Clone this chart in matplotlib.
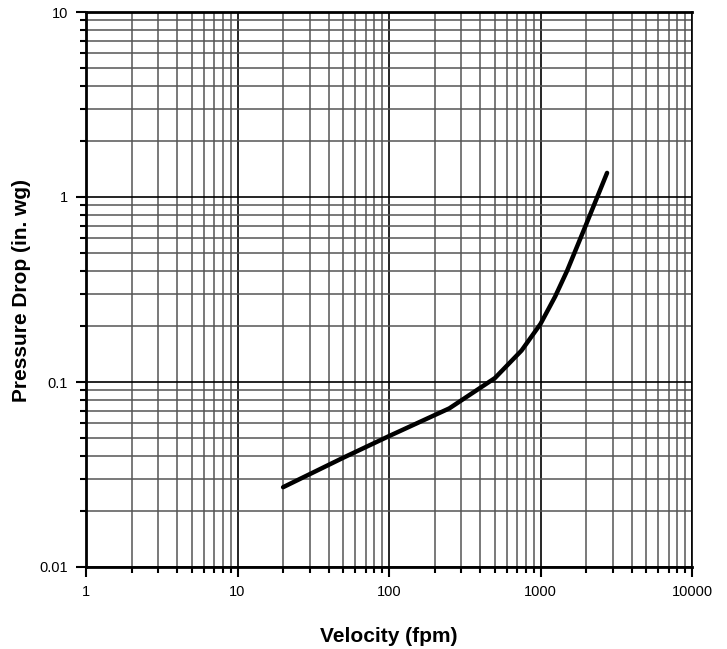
import numpy as np
import matplotlib.pyplot as plt
from matplotlib.ticker import LogLocator, FixedLocator, NullFormatter

plt.rcParams['font.family'] = ['Liberation Sans', 'DejaVu Sans']

# curve
velocity = [20, 50, 100, 250, 500, 750, 1000, 1250, 1500, 2000, 2750]
pressure_drop = [0.027, 0.039, 0.051, 0.072, 0.105, 0.148, 0.206, 0.29, 0.40, 0.71, 1.35]

x_ticks = [1, 10, 100, 1000, 10000]
x_tick_labels = ["1", "10", "100", "1000", "10000"]
y_ticks = [0.01, 0.1, 1, 10]
y_tick_labels = ["0.01", "0.1", "1", "10"]

fig = plt.figure(figsize=(7.27, 6.49), dpi=100)
ax = fig.add_axes([86 / 727, 82 / 649, 606 / 727, 555 / 649])

ax.set_xscale("log")
ax.set_yscale("log")
ax.set_xlim(1, 10000)
ax.set_ylim(0.01, 10)

ax.xaxis.set_major_locator(FixedLocator(x_ticks))
ax.yaxis.set_major_locator(FixedLocator(y_ticks))
ax.xaxis.set_minor_locator(LogLocator(base=10, subs=np.arange(2, 10), numticks=20))
ax.yaxis.set_minor_locator(LogLocator(base=10, subs=np.arange(2, 10), numticks=20))
ax.xaxis.set_minor_formatter(NullFormatter())
ax.yaxis.set_minor_formatter(NullFormatter())
ax.set_xticklabels(x_tick_labels)
ax.set_yticklabels(y_tick_labels)

ax.grid(True, which="major", color="black", linewidth=1.2)
ax.grid(True, which="minor", color="#555555", linewidth=1.1)
ax.set_axisbelow(True)

ax.plot(velocity, pressure_drop, color="black", linewidth=3.2, solid_capstyle="round")

for side in ["left", "bottom", "top"]:
    ax.spines[side].set_linewidth(2)
ax.spines["right"].set_linewidth(1.2)

ax.tick_params(which="major", direction="out", length=7, width=1.5, labelsize=10.5, pad=6)
ax.tick_params(which="minor", direction="out", length=4, width=1.5)

# axis titles placed where the reference has them
fig.text(389 / 727, 1 - 636 / 649, "Velocity (fpm)", fontsize=15, fontweight="bold",
         ha="center", va="center")
fig.text(22 / 727, 1 - 290 / 649, "Pressure Drop (in. wg)", fontsize=15, fontweight="bold",
         ha="center", va="center", rotation=90)

fig.savefig("out.png", dpi=100)
